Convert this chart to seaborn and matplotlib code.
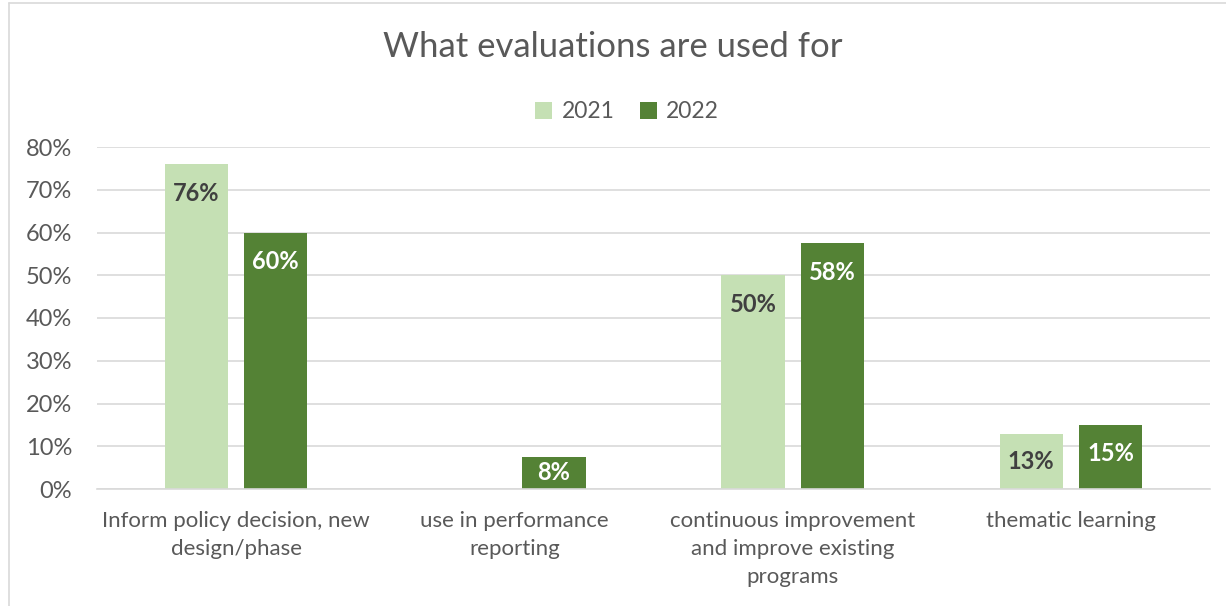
import matplotlib
matplotlib.use("Agg")
import matplotlib.pyplot as plt
import seaborn as sns
import pandas as pd
import numpy as np
from matplotlib.lines import Line2D
from matplotlib.patches import Patch

categories = ["Inform policy decision, new\ndesign/phase",
              "use in performance\nreporting",
              "continuous improvement\nand improve existing\nprograms",
              "thematic learning"]
years = ["2021", "2022"]
values_2021 = [76.0, np.nan, 50.0, 12.9]
values_2022 = [60.0, 7.5, 57.5, 15.0]
yticks = [0, 10, 20, 30, 40, 50, 60, 70, 80]

colors = {"2021": "#C5E0B4", "2022": "#548235"}
label_colors = {"2021": "#404040", "2022": "#FFFFFF"}
text_gray = "#595959"

sns.set_theme(style="white")
plt.rcParams['font.family'] = ['Lato', 'DejaVu Sans']

df = pd.DataFrame({
    "category": categories * 2,
    "year": [years[0]] * 4 + [years[1]] * 4,
    "value": values_2021 + values_2022,
})

W, H = 1226, 606
fig = plt.figure(figsize=(W / 100, H / 100), dpi=100)
ax = fig.add_axes([97 / W, 1 - 489 / H, (1210 - 97) / W, (489 - 147) / H])

sns.barplot(data=df, x="category", y="value", hue="year", palette=colors,
            width=0.57, gap=0.2, ax=ax, legend=False, saturation=1, linewidth=0)

ax.set_ylim(0, 80)
ax.set_xlim(-0.5, 3.5)
ax.set_yticks(yticks)
ax.set_yticklabels([f"{t}%" for t in yticks], fontsize=17, color=text_gray)
ax.tick_params(axis="x", labelsize=16, colors=text_gray, length=0, pad=16)
ax.tick_params(axis="y", length=0, pad=18)
for lab in ax.get_xticklabels():
    lab.set_linespacing(1.5)
ax.set_xlabel("")
ax.set_ylabel("")
ax.yaxis.grid(True, color="#D9D9D9", linewidth=1.2)
ax.set_axisbelow(True)
for s in ["left", "right", "top"]:
    ax.spines[s].set_visible(False)
ax.spines["bottom"].set_color("#D9D9D9")
ax.spines["bottom"].set_linewidth(1.2)

# data labels, inside end
px_per_unit = (489 - 147) / 80.0
for container, yr in zip(ax.containers, years):
    for bar in container:
        h = bar.get_height()
        if np.isnan(h) or h == 0:
            continue
        off_px = min(29.0, h * px_per_unit / 2.0)
        ax.annotate(f"{h:.0f}%", xy=(bar.get_x() + bar.get_width() / 2, h),
                    xytext=(0, -off_px * 0.72), textcoords="offset points",
                    ha="center", va="center", fontsize=17, fontweight="bold",
                    color=label_colors[yr])

fig.text(0.5, 1 - 47 / H, "What evaluations are used for", ha="center", va="center",
         fontsize=25, color=text_gray)

handles = [Patch(facecolor=colors[y], edgecolor="none") for y in years]
fig.legend(handles, years, loc="center", bbox_to_anchor=(627 / W, 1 - 112 / H), ncol=2,
           frameon=False, fontsize=16.5, labelcolor=text_gray, handlelength=0.75,
           handleheight=0.75, handletextpad=0.4, columnspacing=1.1)

fig.add_artist(Line2D([8.5 / W, 8.5 / W], [0, 1 - 2.5 / H], transform=fig.transFigure,
                      color="#D9D9D9", linewidth=1.2))
fig.add_artist(Line2D([8.5 / W, 1], [1 - 2.5 / H, 1 - 2.5 / H], transform=fig.transFigure,
                      color="#D9D9D9", linewidth=1.2))

fig.savefig("out.png", dpi=100, facecolor="white")
